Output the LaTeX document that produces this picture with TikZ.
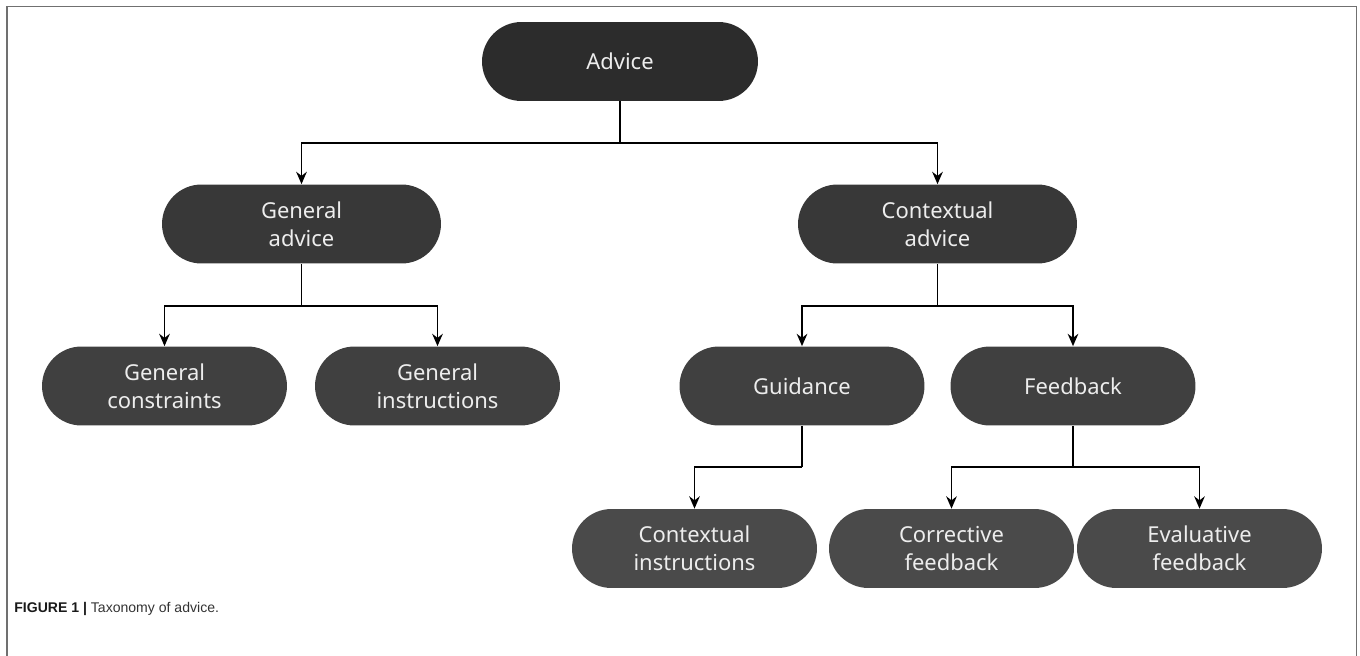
\documentclass[tikz,border=0pt]{standalone}
\usepackage{fontspec}
\setmainfont{Noto Sans}
\newfontfamily\capfont{Liberation Sans}
\usepackage{xcolor}
\usetikzlibrary{arrows.meta}

\definecolor{lvA}{HTML}{2C2C2C}
\definecolor{lvB}{HTML}{383838}
\definecolor{lvC}{HTML}{404040}
\definecolor{lvD}{HTML}{4A4A4A}
\definecolor{frameGray}{HTML}{707070}

\begin{document}
\begin{tikzpicture}[x=0.02cm,y=-0.02cm,
    box/.style={rounded corners=0.79cm, minimum width=4.9cm, minimum height=1.58cm,
      align=center, inner sep=0pt, text=white!93!black,
      font=\fontsize{12.5}{16}\selectfont},
    wire/.style={line width=1.1pt},
    arr/.style={wire,-{Stealth[length=7pt,width=6pt]}}]
    \useasboundingbox (0,0) rectangle (1360,656);
    % frame
    \draw[frameGray,line width=1.1pt] (7,656) -- (7,6.5) -- (1356.5,6.5) -- (1356.5,656);
    % boxes
    \node[box,fill=lvA,minimum width=5.52cm] (advice) at (620,61.5) {Advice};
    \node[box,fill=lvB,minimum width=5.58cm] (genadv) at (301.5,224) {General\\advice};
    \node[box,fill=lvB,minimum width=5.58cm] (ctxadv) at (937.5,224) {Contextual\\advice};
    \node[box,fill=lvC] (gencon) at (164.5,386) {General\\constraints};
    \node[box,fill=lvC] (genins) at (437.5,386) {General\\instructions};
    \node[box,fill=lvC] (guid)   at (802,386)   {Guidance};
    \node[box,fill=lvC] (feed)   at (1073,386)  {Feedback};
    \node[box,fill=lvD] (ctxins) at (694.5,548.5)  {Contextual\\instructions};
    \node[box,fill=lvD] (corr)   at (951.5,548.5)  {Corrective\\feedback};
    \node[box,fill=lvD] (eval)   at (1199.5,548.5) {Evaluative\\feedback};
    % connectors
    \draw[wire] (advice.south) -- ++(0,41.5) coordinate (forkA);
    \draw[arr] (forkA) -| (genadv.north);
    \draw[arr] (forkA) -| (ctxadv.north);
    \draw[wire] (genadv.south) -- ++(0,42) coordinate (forkG);
    \draw[arr] (forkG) -| (gencon.north);
    \draw[arr] (forkG) -| (genins.north);
    \draw[wire] (ctxadv.south) -- ++(0,42) coordinate (forkC);
    \draw[arr] (forkC) -| (guid.north);
    \draw[arr] (forkC) -| (feed.north);
    \draw[wire] (guid.south) -- ++(0,41) coordinate (forkU);
    \draw[arr] (forkU) -| (ctxins.north);
    \draw[wire] (feed.south) -- ++(0,41) coordinate (forkF);
    \draw[arr] (forkF) -| (corr.north);
    \draw[arr] (forkF) -| (eval.north);
    % caption
    \node[anchor=base west,inner sep=0pt,font=\capfont\fontsize{8}{10}\selectfont,text=black!80]
      (caption) at (14,612) {\textbf{\color{black!90}FIGURE 1 |} Taxonomy of advice.};
\end{tikzpicture}
\end{document}
